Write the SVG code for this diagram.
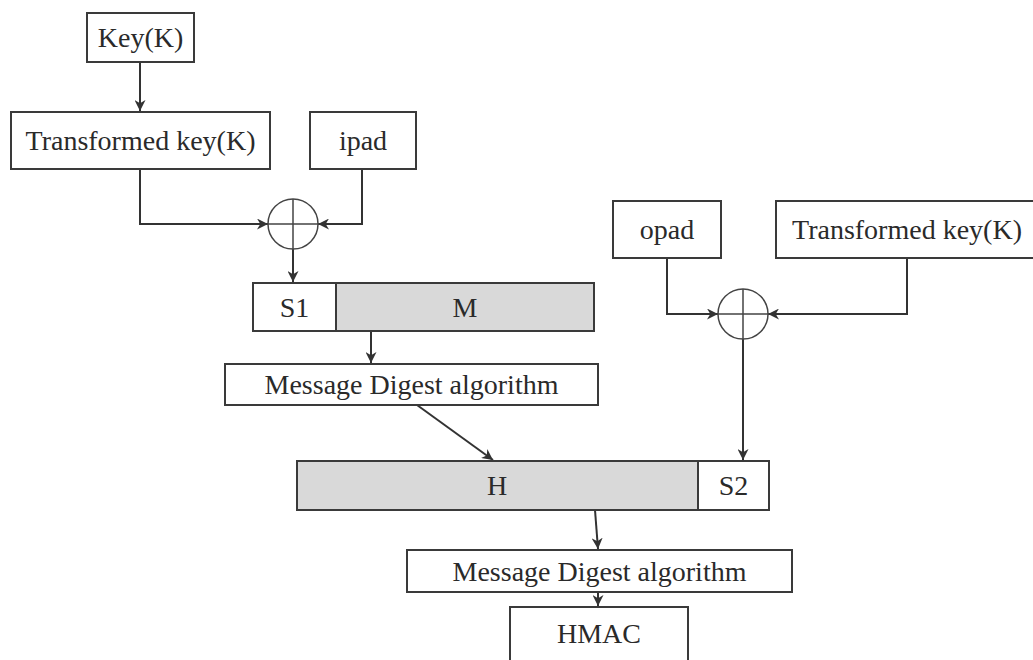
<svg xmlns="http://www.w3.org/2000/svg" width="1033" height="660" viewBox="0 0 1033 660">
<defs>
<marker id="ah" viewBox="0 0 10 10" refX="10" refY="5" markerWidth="11" markerHeight="11" markerUnits="userSpaceOnUse" orient="auto">
<path d="M0,0 L10,5 L0,10 L3,5 z" fill="#333"/>
</marker>
<style>
.box{fill:#fff;stroke:#3a3a3a;stroke-width:2}
.grey{fill:#d9d9d9;stroke:#3a3a3a;stroke-width:2}
.t{font-family:"Liberation Serif","Times New Roman",serif;font-size:28px;fill:#2a2a2a;text-anchor:middle}
.c{fill:none;stroke:#333;stroke-width:2}
.x{fill:none;stroke:#444;stroke-width:1.5}
</style>
</defs>
<rect width="1033" height="660" fill="#fff"/>
<g id="connectors">
<path class="c" d="M140,62 V111" marker-end="url(#ah)"/>
<path class="c" d="M140,169 V224 H268" marker-end="url(#ah)"/>
<path class="c" d="M362,169 V224 H318" marker-end="url(#ah)"/>
<path class="c" d="M293,249 V282" marker-end="url(#ah)"/>
<path class="c" d="M371,331 V363" marker-end="url(#ah)"/>
<path class="c" d="M417,405 L493,460" marker-end="url(#ah)"/>
<path class="c" d="M667,258 V314 H718" marker-end="url(#ah)"/>
<path class="c" d="M907,258 V314 H768" marker-end="url(#ah)"/>
<path class="c" d="M743,339 V460" marker-end="url(#ah)"/>
<path class="c" d="M595,510 L598,549" marker-end="url(#ah)"/>
<path class="c" d="M598,592 V606" marker-end="url(#ah)"/>
</g>
<g id="key">
<rect class="box" x="87" y="13" width="107" height="49"/>
<text class="t" x="140.5" y="47">Key(K)</text>
</g>
<g id="tkey1">
<rect class="box" x="11" y="112" width="259" height="57"/>
<text class="t" x="140.5" y="150">Transformed key(K)</text>
</g>
<g id="ipad">
<rect class="box" x="310" y="112" width="106" height="57"/>
<text class="t" x="363" y="150">ipad</text>
</g>
<g id="xor1">
<circle class="x" cx="293" cy="224" r="25"/>
<path class="x" d="M268,224 H318 M293,199 V249"/>
</g>
<g id="s1">
<rect class="box" x="253" y="283" width="83" height="48"/>
<text class="t" x="294.5" y="317">S1</text>
</g>
<g id="m">
<rect class="grey" x="336" y="283" width="258" height="48"/>
<text class="t" x="465" y="317">M</text>
</g>
<g id="mda1">
<rect class="box" x="225" y="364" width="373" height="41"/>
<text class="t" x="411.5" y="394">Message Digest algorithm</text>
</g>
<g id="opad">
<rect class="box" x="613" y="201" width="108" height="57"/>
<text class="t" x="667" y="239">opad</text>
</g>
<g id="tkey2">
<rect class="box" x="776" y="201" width="260" height="57"/>
<text class="t" x="907" y="239">Transformed key(K)</text>
</g>
<g id="xor2">
<circle class="x" cx="743" cy="314" r="25"/>
<path class="x" d="M718,314 H768 M743,289 V339"/>
</g>
<g id="h">
<rect class="grey" x="297" y="461" width="401" height="49"/>
<text class="t" x="497" y="495">H</text>
</g>
<g id="s2">
<rect class="box" x="698" y="461" width="71" height="49"/>
<text class="t" x="733.5" y="495">S2</text>
</g>
<g id="mda2">
<rect class="box" x="407" y="550" width="385" height="42"/>
<text class="t" x="599.5" y="581">Message Digest algorithm</text>
</g>
<g id="hmac">
<rect class="box" x="510" y="607" width="178" height="60"/>
<text class="t" x="599" y="643">HMAC</text>
</g>
</svg>
